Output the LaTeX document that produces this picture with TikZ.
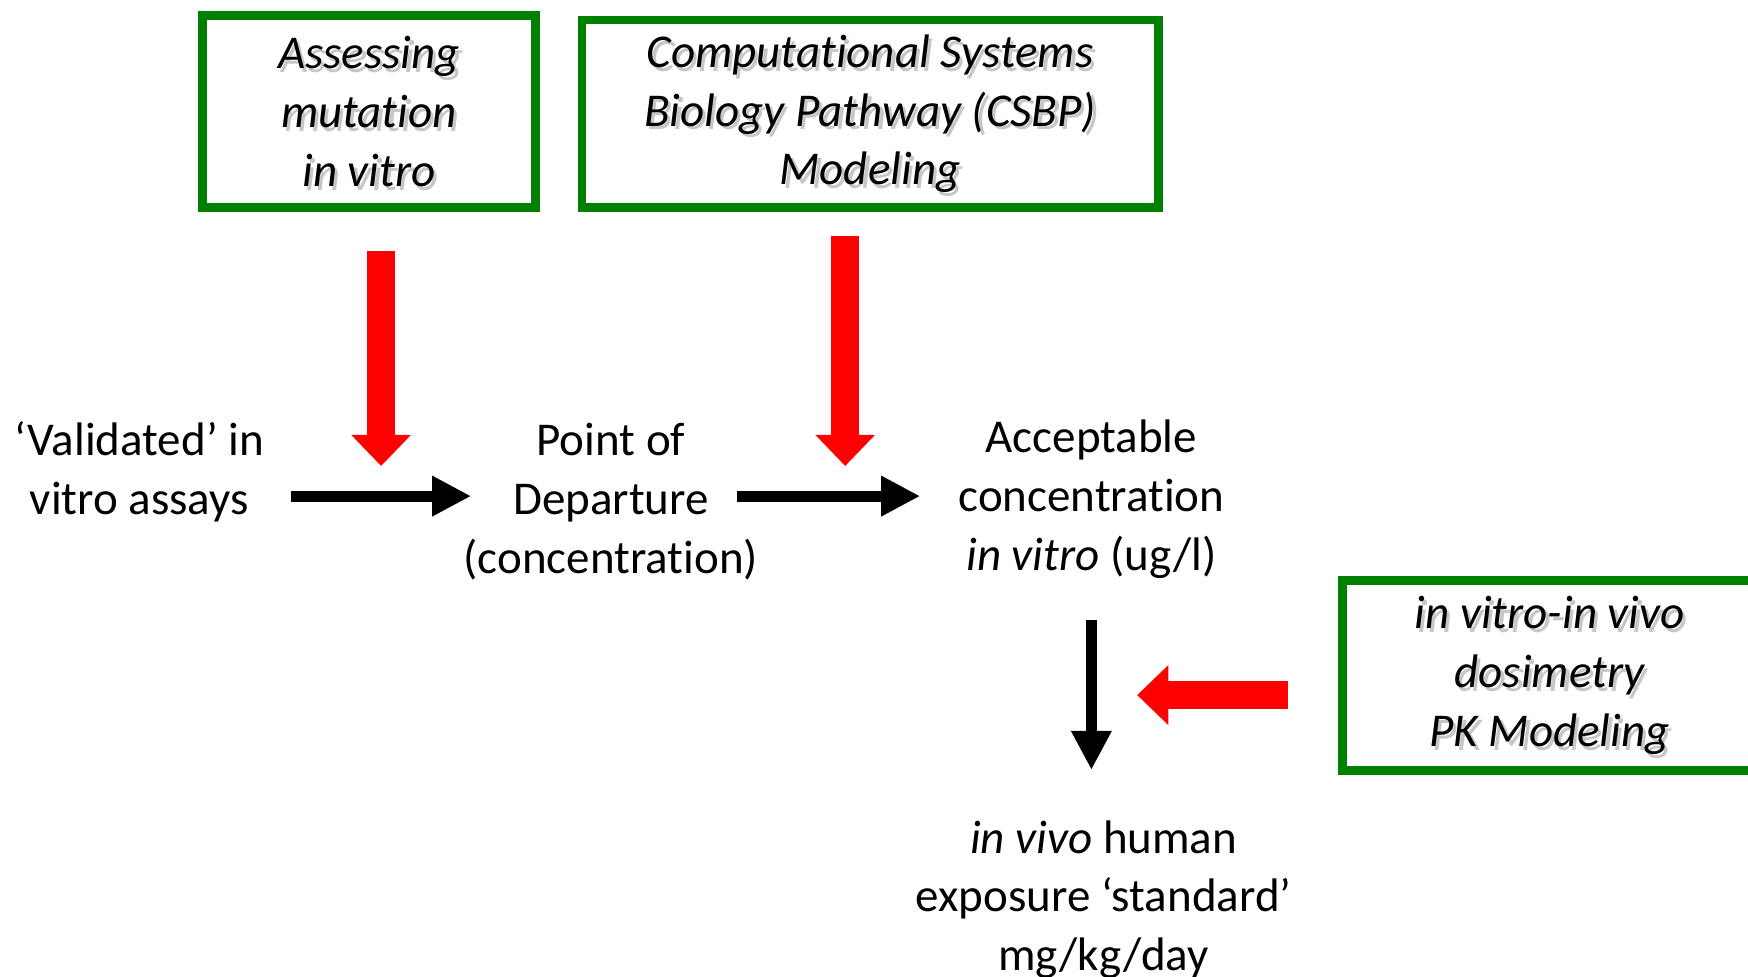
\documentclass[tikz,border=0pt]{standalone}
\usepackage{fontspec}
\setmainfont{Carlito}[Ligatures={NoCommon}]
\usetikzlibrary{arrows.meta, positioning, calc}
\definecolor{boxGreen}{HTML}{008000}
\definecolor{arrRed}{HTML}{FF0000}
\tikzset{
  % green framed method boxes
  gbox/.style={draw=boxGreen, line width=4.5pt, minimum height=3.44cm, inner sep=0pt},
  gtext/.style={align=center, inner sep=0pt, font=\fontsize{24}{30}\selectfont\itshape},
  gshadow/.style={gtext, text=black!22},
  % labels along the chain
  stage/.style={align=center, inner sep=0pt, font=\fontsize{24}{30}\selectfont},
  % block arrows
  blkarr/.style={-{Triangle[length=0.7cm,width=0.68cm]}, line width=0.2cm, black},
  redarr/.style={-{Triangle[length=0.56cm,width=1.04cm]}, line width=0.5cm, arrRed},
}
% italic box text with a soft drop shadow
\newcommand{\gboxtext}[2]{%
  \node[gshadow] at ([shift={(0.06,-0.07)}]#1.center) {#2};
  \node[gtext] (#1-t) at (#1.center) {#2};
}

\begin{document}
\begin{tikzpicture}
\useasboundingbox (0,0) rectangle (31.36,-17.52);

% method boxes
\node[gbox, minimum width=5.96cm] (mut) at (6.62,-2.0) {};
\gboxtext{mut}{Assessing\\mutation\\in vitro}
\node[gbox, minimum width=10.34cm, minimum height=3.36cm] (csbp) at (15.61,-2.04) {};
\gboxtext{csbp}{Computational Systems\\Biology Pathway (CSBP)\\Modeling}
\node[gbox, minimum width=7.44cm, minimum height=3.4cm] (ivive) at (27.8,-12.12) {};
\gboxtext{ivive}{in vitro-in vivo\\dosimetry\\PK Modeling}

% chain of stages
\node[stage] (valid)  at (2.5,-8.46)  {‘Validated’ in\\vitro assays};
\node[stage] (pod)    at (10.96,-9.0) {Point of\\Departure\\(concentration)};
\node[stage] (accept) at (19.58,-8.96) {Acceptable\\concentration\\\textit{in vitro} (ug/l)};
\node[stage] (invivo) at (19.8,-16.14) {\textit{in vivo} human\\exposure ‘standard’\\mg/kg/day};

% black arrows between stages
\draw[blkarr] ($(valid.east |- pod.west)+(0.48,0.1)$) -- coordinate[pos=.5] (m1) ($(pod.west)+(0.14,0.1)$);
\draw[blkarr] ($(pod.east)+(-0.38,0.1)$) -- coordinate[pos=.59] (m2) ($(accept.west |- pod.east)+(-0.68,0.1)$);
\draw[blkarr] ($(accept.south)+(0,-0.74)$) -- coordinate[pos=.5] (m3) ($(accept.south |- invivo.north)+(0,0.9)$);

% red arrows from the method boxes
\draw[redarr, shorten <=0.7cm, shorten >=0.54cm] (mut.south -| m1) -- (m1);
\draw[redarr, shorten <=0.44cm, shorten >=0.54cm] (csbp.south -| m2) -- (m2);
\draw[redarr, shorten <=0.9cm, shorten >=0.82cm] (ivive.west |- m3) -- (m3);

\end{tikzpicture}
\end{document}
